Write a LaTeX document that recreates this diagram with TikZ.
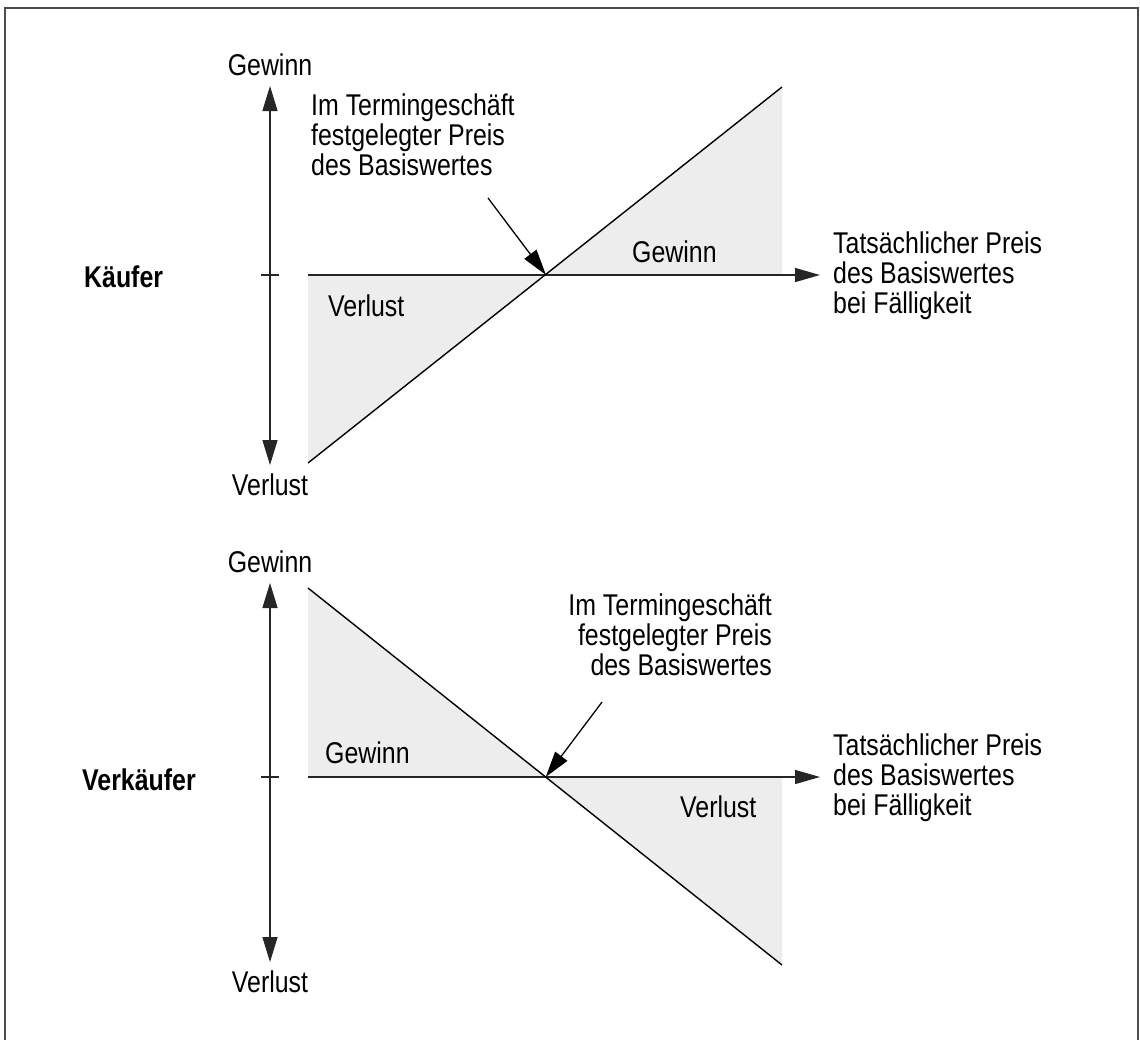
\documentclass[tikz,border=0pt]{standalone}
\usepackage{fontspec}
\setmainfont{Liberation Sans}[FakeStretch=0.83]
\usetikzlibrary{arrows.meta}
\begin{document}
\begin{tikzpicture}[x=1pt,y=-1pt,
  lbl/.style={inner sep=0pt,font=\fontsize{30}{30}\selectfont},
  side/.style={lbl,font=\fontsize{30}{30}\selectfont\bfseries},
  area/.style={fill=black!7,draw=none},
  axis/.style={line width=1.4pt,black!85},
  bothtips/.style={{Triangle[length=25pt,width=15pt]}-{Triangle[length=25pt,width=15pt]}},
  tip/.style={-{Triangle[length=25pt,width=14pt]}},
  payoff/.style={line width=1.4pt},
  pointer/.style={line width=1.3pt,-{Triangle[length=26pt,width=15pt]}},
  frameline/.style={line width=2pt,black!70}]
\useasboundingbox (0,0) rectangle (1140,1039);
\draw[frameline] (5,1050) -- (5,7.5) -- (1138,7.5) -- (1138,1050);

% ---------- buyer ----------
\coordinate (kTop) at (270,86);
\coordinate (kBot) at (270,465);
\coordinate (kTick) at (270,275);
\coordinate (kStart) at (308,275);
\coordinate (kEnd) at (820,275);
\coordinate (kX) at (546,275);
\coordinate (kLow) at (308,463);
\coordinate (kHigh) at (782,87);
\coordinate (kCorner) at (782,275);
\coordinate (kPtr) at (488,198);

\fill[area] (kStart) -- (kX) -- (kLow) -- cycle;
\fill[area] (kX) -- (kCorner) -- (kHigh) -- cycle;
\draw[axis,bothtips] (kTop) -- (kBot);
\draw[axis] ([xshift=-9pt]kTick) -- ([xshift=9pt]kTick);
\draw[axis,tip] (kStart) -- (kEnd);
\draw[payoff] (kLow) -- (kHigh);
\draw[pointer] (kPtr) -- (kX);

\node[lbl,anchor=base] (kGain) at (270,75) {Gewinn};
\node[lbl,anchor=base] (kLoss) at (270,495) {Verlust};
\node[side,anchor=base west] (kSide) at (84,287) {Käufer};
% multi-line nodes: the base anchor sits on the last line
\node[lbl,anchor=base west,align=left] (kFix) at (311,175)
  {Im Termingeschäft\\festgelegter Preis\\des Basiswertes};
\node[lbl,anchor=base west,align=left] (kPrice) at (833,313)
  {Tatsächlicher Preis\\des Basiswertes\\bei Fälligkeit};
\node[lbl,anchor=base west] (kGainIn) at (632,262) {Gewinn};
\node[lbl,anchor=base west] (kLossIn) at (328,316) {Verlust};

% ---------- seller ----------
\coordinate (vTop) at (270,583);
\coordinate (vBot) at (270,962);
\coordinate (vTick) at (270,777);
\coordinate (vStart) at (308,777);
\coordinate (vEnd) at (820,777);
\coordinate (vX) at (545.7,777);
\coordinate (vHigh) at (308,588);
\coordinate (vLow) at (782,965);
\coordinate (vCorner) at (782,777);
\coordinate (vPtr) at (602,702);

\fill[area] (vHigh) -- (vStart) -- (vX) -- cycle;
\fill[area] (vX) -- (vCorner) -- (vLow) -- cycle;
\draw[axis,bothtips] (vTop) -- (vBot);
\draw[axis] ([xshift=-9pt]vTick) -- ([xshift=9pt]vTick);
\draw[axis,tip] (vStart) -- (vEnd);
\draw[payoff] (vHigh) -- (vLow);
\draw[pointer] (vPtr) -- (vX);

\node[lbl,anchor=base] (vGain) at (270,572) {Gewinn};
\node[lbl,anchor=base] (vLoss) at (270,992) {Verlust};
\node[side,anchor=base west] (vSide) at (82,790) {Verkäufer};
\node[lbl,anchor=base east,align=right] (vFix) at (772,675)
  {Im Termingeschäft\\festgelegter Preis\\des Basiswertes};
\node[lbl,anchor=base west,align=left] (vPrice) at (833,815)
  {Tatsächlicher Preis\\des Basiswertes\\bei Fälligkeit};
\node[lbl,anchor=base west] (vGainIn) at (325,763) {Gewinn};
\node[lbl,anchor=base west] (vLossIn) at (680,817) {Verlust};
\end{tikzpicture}
\end{document}
